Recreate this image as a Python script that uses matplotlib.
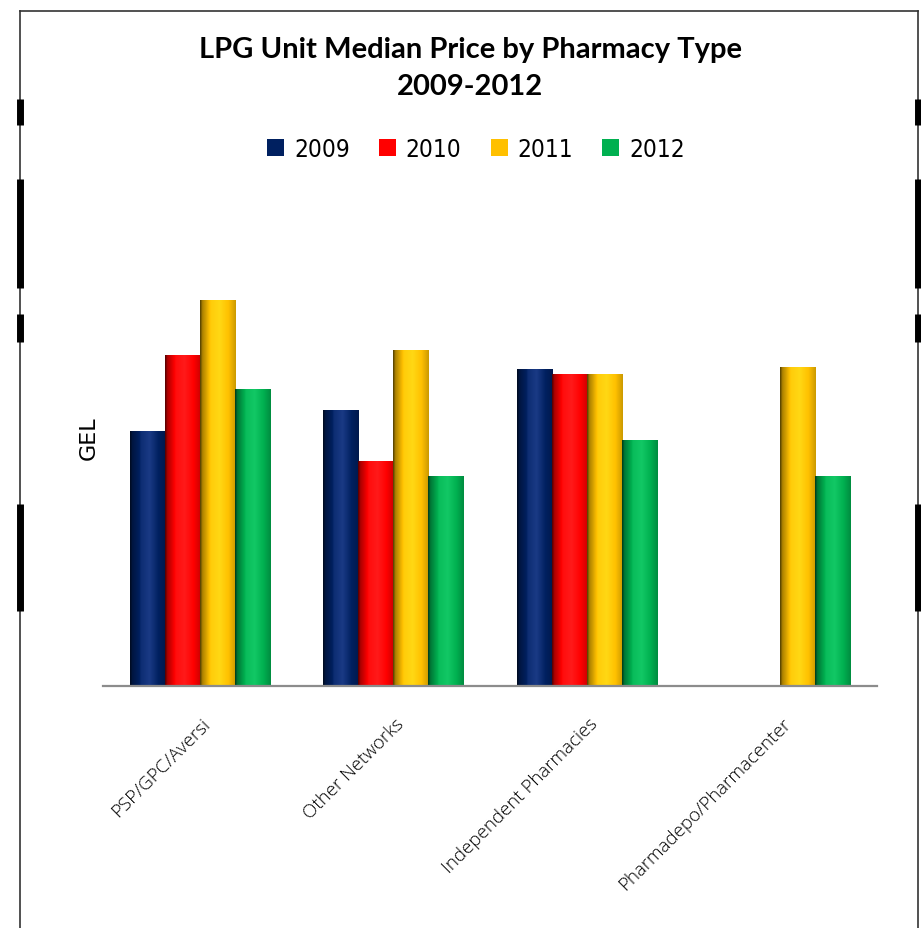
import numpy as np
import matplotlib
matplotlib.use("Agg")
import matplotlib.pyplot as plt
import matplotlib.transforms as mtransforms
from matplotlib.colors import to_rgb
from matplotlib.patches import Patch
from matplotlib.lines import Line2D

# data (arbitrary GEL scale)
categories = ["PSP/GPC/Aversi", "Other Networks", "Independent Pharmacies",
              "Pharmadepo/Pharmacenter"]
years = ["2009", "2010", "2011", "2012"]
v2009 = [2.55, 2.76, 3.17, 0.0]
v2010 = [3.31, 2.24, 3.12, 0.0]
v2011 = [3.86, 3.36, 3.12, 3.19]
v2012 = [2.97, 2.10, 2.46, 2.10]
series = [v2009, v2010, v2011, v2012]
colors = ["#002060", "#FF0000", "#FFC000", "#00B050"]
highlights = ["#1a3a85", "#ff1a1a", "#FFD814", "#12c865"]


def cylinder(base, hi):
    # shading across the bar width: dark left edge, bright middle, dim right
    t = np.linspace(0, 1, 64)
    pts = [0, 0.06, 0.3, 0.55, 0.8, 1]
    lvl = [0.3, 0.6, 0.95, 1.0, 0.9, 0.72]
    f = np.interp(t, pts, lvl)
    b = np.array(to_rgb(base))
    h = np.array(to_rgb(hi))
    img = np.where(f[:, None] < 0.9,
                   b * (f[:, None] / 0.9),
                   b + (h - b) * ((f[:, None] - 0.9) / 0.1))
    return np.clip(img, 0, 1)[None, :, :]


W, H = 921, 929
fig = plt.figure(figsize=(W / 100, H / 100), dpi=100)

ax_left, ax_right = 103, 877
ax_bottom, ax_top = 687, 190
ax = fig.add_axes([ax_left / W, 1 - ax_bottom / H,
                   (ax_right - ax_left) / W, (ax_bottom - ax_top) / H])

x = np.arange(len(categories))
bw = 0.181
ylim = (ax_bottom - ax_top) / 100
for i, vals in enumerate(series):
    pos = x + (i - 1.5) * bw
    bars = ax.bar(pos, vals, width=bw, color=colors[i], linewidth=0)
    grad = cylinder(colors[i], highlights[i])
    for b in bars:
        if b.get_height() <= 0:
            continue
        x0 = b.get_x()
        ax.imshow(grad, extent=[x0, x0 + b.get_width(), 0, b.get_height()],
                  aspect="auto", zorder=3, interpolation="bilinear")

ax.set_xlim(-0.5, len(categories) - 0.5)
ax.set_ylim(0, ylim)
for s in ["top", "right", "left"]:
    ax.spines[s].set_visible(False)
ax.spines["bottom"].set_color("#8c8c8c")
ax.spines["bottom"].set_linewidth(1.6)
ax.spines["bottom"].set_zorder(5)
ax.set_yticks([])
ax.set_xticks(x)
ax.set_xticklabels(categories, rotation=45, ha="right", va="center",
                   rotation_mode="anchor", fontsize=13.5,
                   family="Open Sans", fontweight="light")
ax.tick_params(axis="x", length=0, pad=25)
shift = mtransforms.ScaledTranslation(8 / 100, 0, fig.dpi_scale_trans)
for lab in ax.get_xticklabels():
    lab.set_transform(lab.get_transform() + shift)

ax.set_ylabel("GEL", fontsize=16, labelpad=3, family="DejaVu Sans")

fig.text(470 / W, 1 - 50 / H, "LPG Unit Median Price by Pharmacy Type",
         ha="center", va="center", fontsize=21, fontweight="bold", family="Lato")
fig.text(470 / W, 1 - 87 / H, "2009-2012",
         ha="center", va="center", fontsize=21, fontweight="bold", family="Lato")

handles = [Patch(facecolor=c, edgecolor="none") for c in colors]
leg = fig.legend(handles, years, loc="center", bbox_to_anchor=(476 / W, 1 - 150 / H),
                 ncol=4, frameon=False, handlelength=0.7, handleheight=0.7,
                 handletextpad=0.4, columnspacing=1.2,
                 prop={"family": "DejaVu Sans", "size": 17.5,
                       "stretch": "condensed", "weight": "light"})

# outer frame with the dark marks on both sides
fy = lambda py: 1 - py / H
fx = lambda px: px / W
frame = [([20, 20], [929, 12]), ([20, 918], [12, 12]), ([918, 918], [12, 929])]
for xs, ys in frame:
    fig.add_artist(Line2D([fx(v) for v in xs], [fy(v) for v in ys],
                          color="#333333", linewidth=1.2))
marks = [(100, 126), (180, 289), (315, 343), (505, 612)]
for y0, y1 in marks:
    for px in (20, 918):
        fig.add_artist(Line2D([fx(px), fx(px)], [fy(y0), fy(y1)],
                              color="black", linewidth=5, solid_capstyle="butt"))

fig.savefig("out.png", dpi=100)
